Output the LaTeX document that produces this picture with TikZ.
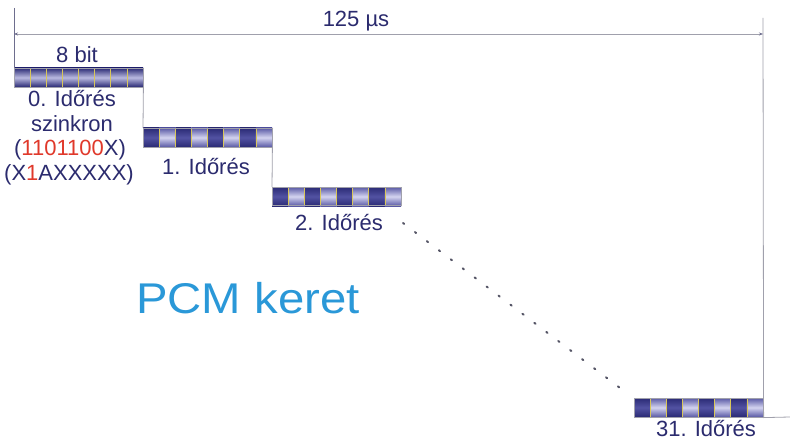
\documentclass[tikz,border=0pt]{standalone}
\usepackage{fontspec}
\setmainfont{Liberation Sans}
\usetikzlibrary{arrows.meta}
\definecolor{txt}{HTML}{2B2B6E}
\definecolor{navy}{HTML}{2A2A74}
\definecolor{navymid}{HTML}{5252A2}
\definecolor{lavtop}{HTML}{5858A4}
\definecolor{lav}{HTML}{D4D4F0}
\definecolor{sepc}{HTML}{D9C75A}
\definecolor{ln}{HTML}{A0A0AC}
\definecolor{lnd}{HTML}{6E6E8E}
\definecolor{dotc}{HTML}{555566}
\definecolor{pcm}{HTML}{2A98D8}
\definecolor{redt}{HTML}{E0392B}
\tikzset{
  lbl/.style={text=txt,font=\fontsize{22}{24.5}\selectfont,align=center,inner sep=0pt,anchor=base},
  slotbox/.style={draw=ln,line width=0.6pt,minimum width=129pt,minimum height=19pt,inner sep=0pt,anchor=north west},
  darkcell/.style={top color=navy,bottom color=navy,middle color=navymid},
  lightcell/.style={top color=lavtop,bottom color=lavtop,middle color=lav},
  sepline/.style={draw=sepc,line width=0.7pt},
  stair/.style={draw=ln,line width=0.8pt},
}
\newcommand\cellsalt[2]{%
  \foreach \k in {0,...,7}{%
    \pgfmathsetmacro\xa{#1+\k*16.125}%
    \pgfmathsetmacro\xb{\xa+16.125}%
    \ifodd\k
      \shade[lightcell] (\xa,#2) rectangle (\xb,#2+19);
    \else
      \shade[darkcell] (\xa,#2) rectangle (\xb,#2+19);
    \fi
    \ifnum\k>0 \draw[sepline] (\xa,#2) -- (\xa,#2+19);\fi
  }}
\begin{document}
\begin{tikzpicture}[x=1pt,y=-1pt]
\useasboundingbox (0,0) rectangle (790,441);
\fill[white] (0,0) rectangle (790,441);
% slot 0 (uniform)
\shade[top color=navy,bottom color=navy,middle color=lav!80!navymid] (14,68) rectangle (143,87);
\foreach \k in {1,...,7}{\draw[sepline] (14+\k*16.125,68) -- (14+\k*16.125,87);}
\node[slotbox,minimum height=19pt] (s0) at (14,68) {};
% slot 1, 2, 31
\cellsalt{143}{128}
\node[slotbox] (s1) at (143,128) {};
\cellsalt{272}{187}
\node[slotbox,minimum height=18pt] (s2) at (272,187) {};
\cellsalt{634}{398}
\node[slotbox] (s31) at (634,398) {};
% frame lines
\coordinate (ltop) at (14,8);
\coordinate (rtop) at (763,18);
\coordinate (rend) at (790,417);
\draw[draw=lnd,line width=0.9pt] (ltop) -- (s0.north west);
\draw[stair] (rtop) -- (s31.south east) -- (rend);
\draw[stair] (s0.north east) -- (s1.north west);
\draw[stair] (s1.north east) -- (s2.north west);
% span arrow
\coordinate (al) at (14,34);
\coordinate (ar) at (763,34);
\draw[ln,line width=0.9pt,{Stealth[length=4pt,width=3pt,color=lnd]}-{Stealth[length=4pt,width=3pt,color=lnd]}] (al) -- (ar);
% dotted continuation
\coordinate (d1) at (403,223);
\coordinate (d2) at (620,388);
\draw[draw=dotc,line width=2pt,dash pattern=on 1.5pt off 13.5pt,line cap=round] (d1) -- (d2);
% labels
\node[lbl] (t125) at (356,27) {125 µs};
\node[lbl] (t8) at (77,63) {8 bit};
\node[lbl] (t0a) at (72,106.7) {0. Időrés};
\node[lbl] (t0b) at (72,131.5) {szinkron};
\node[lbl] (t0c) at (70,156) {(\textcolor{redt}{1101100}X)};
\node[lbl] (t0d) at (69,180.7) {(X\textcolor{redt}{1}AXXXXX)};
\node[lbl] (t1) at (206,175) {1. Időrés};
\node[lbl] (t2) at (339,230) {2. Időrés};
\node[lbl] (t31) at (706,436) {31. Időrés};
\node[inner sep=0pt,text=pcm,font=\fontsize{43}{45}\selectfont] (pcm) at (248,298) {\scalebox{1.1}[1]{PCM keret}};
\end{tikzpicture}
\end{document}
